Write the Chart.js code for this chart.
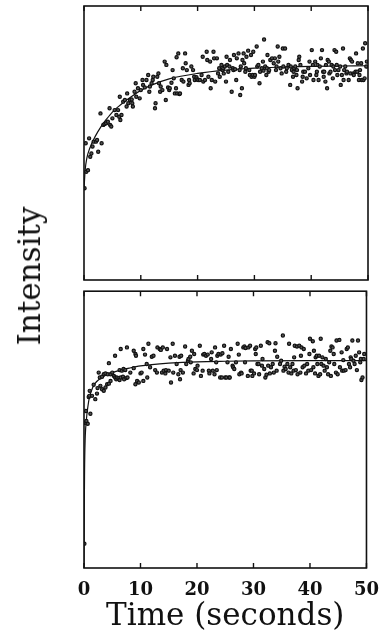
<!DOCTYPE html>
<html>
<head>
<meta charset="utf-8">
<script src="https://cdn.jsdelivr.net/npm/chart.js@4"></script>
<style>
  body { margin: 0; background: #fff; }
  #wrap { position: relative; width: 381px; height: 644px; }
  #top { position: absolute; left: 0; top: 0; }
  #bottom { position: absolute; left: 0; top: 286px; }
  #ylab {
    position: absolute; left: 29px; top: 276px;
    transform: translate(-50%, -50%) rotate(-90deg);
    font: 31px "DejaVu Serif", serif; color: #111; white-space: nowrap;
  }
</style>
</head>
<body>
<div id="wrap">
  <canvas id="top" width="381" height="286"></canvas>
  <canvas id="bottom" width="381" height="358"></canvas>
  <div id="ylab">Intensity</div>
</div>
<script>
// ticks on the time axis (seconds)
const timeTicks = [0, 10, 20, 30, 40, 50];

// upper panel: measured points
const topTime = [
  0.1, 0.4, 0.7, 0.3, 0.9, 1.1, 1.3, 1.5, 1.7, 2.1,
  2.3, 2.5, 2.9, 3.1, 3.4, 3.6, 3.9, 4.2, 4.5, 4.6,
  4.8, 5.0, 5.4, 5.7, 6.0, 6.2, 6.3, 6.4, 6.6, 6.9,
  7.2, 7.5, 7.6, 7.8, 8.1, 8.4, 8.5, 8.6, 8.9, 9.1,
  9.2, 9.5, 9.8, 10.0, 10.3, 10.4, 10.7, 11.0, 11.3, 11.5,
  11.6, 11.9, 12.1, 12.2, 12.5, 12.6, 12.9, 13.1, 13.2, 13.4,
  13.5, 13.8, 14.2, 14.4, 14.5, 14.8, 15.0, 15.1, 15.4, 15.6,
  15.8, 16.0, 16.2, 16.3, 16.4, 16.6, 16.8, 16.9, 17.2, 17.4,
  17.5, 17.8, 17.9, 18.1, 18.4, 18.5, 18.6, 18.9, 19.2, 19.4,
  19.5, 19.8, 19.9, 20.1, 20.4, 20.7, 20.9, 21.0, 21.3, 21.6,
  21.7, 21.9, 22.2, 22.3, 22.5, 22.8, 22.9, 23.1, 23.4, 23.6,
  23.8, 23.9, 24.2, 24.4, 24.5, 24.6, 24.8, 25.0, 25.1, 25.2,
  25.4, 25.6, 25.7, 26.0, 26.2, 26.3, 26.4, 26.6, 26.8, 26.9,
  27.2, 27.4, 27.5, 27.6, 27.8, 27.9, 28.1, 28.2, 28.4, 28.5,
  28.6, 28.9, 29.1, 29.2, 29.4, 29.5, 29.7, 29.8, 30.0, 30.1,
  30.4, 30.5, 30.7, 30.9, 31.0, 31.3, 31.5, 31.6, 31.7, 31.9,
  32.1, 32.2, 32.3, 32.5, 32.6, 32.8, 33.1, 33.4, 33.6, 33.8,
  33.9, 34.1, 34.2, 34.4, 34.6, 34.8, 35.0, 35.1, 35.4, 35.6,
  35.7, 36.0, 36.3, 36.4, 36.6, 36.8, 36.9, 37.0, 37.2, 37.4,
  37.5, 37.6, 37.8, 37.9, 38.1, 38.4, 38.5, 38.6, 38.9, 39.2,
  39.5, 39.7, 39.8, 40.1, 40.3, 40.4, 40.7, 40.9, 41.0, 41.1,
  41.3, 41.5, 41.7, 41.9, 42.1, 42.2, 42.3, 42.5, 42.6, 42.8,
  42.9, 43.1, 43.2, 43.4, 43.6, 43.8, 43.9, 44.1, 44.2, 44.4,
  44.5, 44.6, 44.8, 45.1, 45.2, 45.4, 45.6, 45.7, 45.8, 46.0,
  46.2, 46.3, 46.6, 46.8, 46.9, 47.0, 47.2, 47.4, 47.5, 47.8,
  47.9, 48.1, 48.2, 48.4, 48.5, 48.6, 48.8, 48.9, 49.1, 49.2,
  49.4, 49.5, 49.7, 49.8
];
const topIntensity = [
  33.5, 39.5, 40.1, 49.9, 51.7, 45.0, 46.2, 48.7, 50.5, 50.5,
  51.1, 46.8, 60.8, 49.9, 56.6, 56.9, 57.2, 57.8, 62.7, 56.6,
  56.0, 59.0, 62.0, 60.2, 62.0, 59.6, 66.9, 58.4, 60.2, 65.1,
  65.7, 63.3, 68.1, 64.5, 65.7, 65.9, 64.5, 63.3, 68.7, 71.8,
  66.9, 70.0, 66.3, 69.3, 73.0, 71.2, 70.3, 73.0, 74.8, 68.7,
  70.6, 71.8, 73.0, 74.2, 62.7, 64.5, 74.2, 75.4, 71.8, 68.7,
  70.6, 69.3, 79.7, 65.7, 78.5, 70.3, 69.3, 70.0, 72.0, 76.6,
  73.6, 68.1, 70.0, 81.3, 68.1, 82.7, 67.9, 68.1, 73.0, 77.3,
  72.4, 82.7, 79.1, 76.6, 71.2, 73.0, 71.8, 77.9, 76.6, 74.2,
  73.0, 74.0, 73.2, 73.0, 73.0, 74.8, 81.5, 72.4, 73.0, 83.3,
  80.3, 74.2, 79.7, 70.0, 73.0, 83.3, 80.9, 72.4, 80.9, 75.4,
  77.3, 74.2, 78.5, 76.6, 77.3, 75.4, 77.9, 72.4, 81.5, 78.5,
  76.0, 77.9, 80.3, 68.7, 77.3, 76.6, 82.1, 76.9, 73.0, 80.9,
  82.7, 76.6, 67.5, 77.9, 70.0, 80.3, 82.7, 79.1, 76.0, 77.3,
  81.5, 83.7, 76.6, 74.8, 82.1, 74.2, 74.8, 83.3, 74.2, 74.8,
  85.2, 77.9, 78.5, 71.8, 76.0, 77.3, 79.7, 76.4, 87.8, 77.9,
  74.8, 77.3, 82.1, 76.0, 76.6, 80.3, 80.9, 79.1, 80.9, 76.6,
  77.9, 85.2, 79.7, 81.5, 77.3, 75.4, 84.5, 77.9, 84.5, 76.0,
  77.3, 78.5, 71.2, 77.9, 76.6, 74.2, 76.0, 77.3, 77.9, 74.8,
  76.6, 70.0, 80.3, 81.5, 78.5, 72.4, 74.2, 76.0, 76.0, 73.6,
  77.3, 79.7, 74.8, 83.9, 78.5, 73.0, 79.7, 74.8, 76.0, 78.5,
  73.0, 77.9, 80.9, 83.9, 76.0, 74.2, 76.0, 72.4, 78.5, 70.0,
  80.3, 79.7, 75.4, 76.0, 78.5, 73.6, 77.9, 83.9, 76.6, 83.3,
  78.5, 74.8, 76.6, 77.9, 71.2, 74.8, 84.5, 73.0, 76.6, 77.9,
  75.4, 76.0, 73.0, 80.9, 75.4, 80.3, 79.7, 75.4, 74.8, 76.0,
  82.7, 76.0, 79.1, 73.0, 74.8, 76.6, 79.1, 73.0, 84.5, 73.0,
  73.6, 86.4, 77.9, 79.7
];
// upper panel: fitted curve
const topFitTime = [0, 0.2, 0.5, 1, 2, 3, 4, 5, 6, 7, 8, 10, 12, 15, 20, 25, 30, 35, 40, 45, 50];
const topFitIntensity = [33, 40, 44.5, 48, 52.5, 56, 58.8, 61.3, 63.2, 64.9, 66.4, 69.2, 71.2, 73.4, 75.4, 76.6, 77.3, 77.7, 78.0, 78.1, 78.2];

// lower panel: measured points
const bottomTime = [
  0.07, 0.2, 0.35, 0.42, 0.66, 0.83, 0.95, 1.01, 1.13, 1.42,
  1.71, 2.0, 2.3, 2.4, 2.6, 2.8, 2.9, 3.2, 3.2, 3.5,
  3.5, 3.8, 3.8, 4.1, 4.2, 4.4, 4.4, 4.7, 4.7, 5.0,
  5.3, 5.5, 5.5, 5.7, 5.8, 6.1, 6.3, 6.3, 6.5, 6.5,
  6.7, 6.9, 7.0, 7.1, 7.3, 7.5, 7.6, 7.7, 8.2, 8.8,
  8.8, 9.1, 9.1, 9.2, 9.4, 9.7, 10.0, 10.2, 10.5, 10.5,
  10.8, 11.1, 11.2, 11.4, 11.7, 12.0, 12.3, 12.6, 12.9, 13.0,
  13.4, 13.6, 13.8, 13.95, 14.1, 14.4, 14.5, 14.7, 15.0, 15.3,
  15.4, 15.7, 15.8, 16.1, 16.4, 16.7, 16.9, 17.0, 17.1, 17.2,
  17.5, 17.9, 18.1, 18.4, 18.5, 18.8, 18.9, 19.1, 19.4, 19.5,
  19.7, 20.0, 20.1, 20.5, 20.7, 21.0, 21.1, 21.3, 21.6, 21.9,
  22.1, 22.2, 22.5, 22.6, 22.8, 23.1, 23.2, 23.4, 23.5, 23.6,
  23.8, 24.1, 24.2, 24.4, 24.5, 24.8, 25.0, 25.2, 25.4, 25.6,
  25.7, 25.8, 26.0, 26.3, 26.4, 26.6, 26.9, 27.2, 27.4, 27.5,
  27.8, 27.9, 28.2, 28.4, 28.5, 28.6, 29.0, 29.1, 29.4, 29.5,
  29.7, 29.8, 30.1, 30.3, 30.4, 30.5, 30.7, 30.9, 31.0, 31.3,
  31.5, 31.6, 31.9, 32.1, 32.3, 32.5, 32.6, 32.8, 32.9, 33.1,
  33.4, 33.6, 33.8, 33.9, 34.1, 34.2, 34.7, 34.9, 35.2, 35.3,
  35.5, 35.7, 36.0, 36.2, 36.3, 36.5, 36.7, 36.9, 37.1, 37.2,
  37.3, 37.5, 37.7, 37.8, 38.1, 38.3, 38.4, 38.5, 38.7, 38.9,
  39.0, 39.3, 39.5, 39.7, 39.9, 40.0, 40.2, 40.5, 40.6, 40.7,
  40.9, 41.0, 41.2, 41.3, 41.5, 41.6, 41.8, 41.9, 42.0, 42.2,
  42.4, 42.6, 42.8, 43.0, 43.2, 43.4, 43.6, 43.7, 43.8, 44.0,
  44.2, 44.3, 44.6, 44.7, 44.9, 45.2, 45.3, 45.6, 45.7, 45.9,
  46.0, 46.3, 46.5, 46.7, 46.9, 47.1, 47.2, 47.3, 47.5, 47.7,
  47.9, 48.1, 48.3, 48.5, 48.7, 48.9, 49.0, 49.1, 49.3, 49.5,
  49.6
];
const bottomIntensity = [
  8.8, 52.5, 56.7, 53.1, 52.1, 61.8, 62.2, 64.0, 55.7, 62.2,
  66.2, 61.0, 63.0, 65.0, 70.6, 68.8, 65.8, 64.6, 69.1, 64.0,
  70.0, 65.2, 70.3, 66.4, 70.0, 66.6, 74.0, 67.6, 70.0, 70.6,
  69.4, 68.8, 76.7, 68.2, 68.8, 68.6, 67.9, 71.5, 68.8, 79.1,
  71.3, 69.1, 71.9, 68.2, 71.5, 68.6, 79.7, 68.8, 70.6, 72.2,
  78.5, 77.3, 66.4, 76.7, 67.6, 67.0, 70.3, 70.6, 79.1, 67.6,
  77.1, 73.7, 68.8, 81.0, 72.5, 76.3, 76.7, 71.5, 70.6, 79.7,
  79.1, 78.8, 70.6, 79.7, 71.3, 70.3, 71.5, 79.1, 71.3, 76.1,
  67.0, 81.0, 70.6, 76.7, 73.7, 70.0, 76.3, 68.2, 71.5, 76.7,
  70.6, 80.0, 73.7, 74.9, 75.5, 76.3, 74.3, 78.5, 70.3, 77.3,
  71.9, 71.5, 73.1, 80.3, 69.4, 71.3, 77.1, 77.3, 76.7, 77.1,
  71.3, 70.3, 75.5, 77.9, 71.3, 70.0, 79.7, 74.3, 71.5, 76.7,
  77.3, 68.8, 77.1, 68.8, 77.6, 80.3, 68.8, 68.8, 74.3, 76.3,
  68.8, 68.8, 79.1, 73.1, 72.5, 71.9, 74.3, 81.0, 77.1, 70.0,
  70.6, 70.3, 79.7, 80.0, 74.3, 79.5, 69.4, 79.7, 80.3, 71.3,
  71.3, 69.4, 70.3, 79.1, 77.3, 79.7, 73.7, 73.7, 70.0, 80.3,
  73.1, 75.5, 71.9, 68.8, 69.8, 81.6, 73.1, 81.2, 70.3, 72.5,
  73.7, 70.6, 78.5, 81.2, 71.3, 76.3, 73.7, 74.9, 84.0, 71.3,
  72.7, 71.9, 73.7, 70.6, 81.0, 72.5, 70.3, 73.7, 71.3, 76.1,
  80.3, 71.5, 80.0, 70.0, 80.3, 70.6, 76.7, 79.7, 72.5, 79.1,
  73.1, 70.3, 73.7, 71.3, 77.3, 82.8, 71.5, 81.9, 72.5, 78.5,
  70.3, 76.1, 76.7, 73.7, 69.4, 76.7, 70.0, 82.8, 73.7, 76.1,
  73.1, 71.3, 75.5, 72.5, 70.0, 74.3, 78.5, 69.4, 80.0, 79.7,
  77.3, 73.7, 70.6, 82.2, 70.0, 82.4, 72.5, 77.9, 71.3, 75.1,
  71.3, 71.5, 79.1, 79.7, 73.7, 72.5, 76.1, 75.5, 82.2, 74.9,
  73.7, 76.7, 71.5, 82.2, 77.9, 74.3, 75.5, 67.9, 68.8, 75.5,
  77.3
];
// lower panel: fitted curve
const bottomFitTime = [0, 0.05, 0.1, 0.2, 0.4, 0.7, 1, 1.5, 2, 3, 4, 5, 6.5, 8, 10, 12, 15, 20, 25, 30, 40, 50];
const bottomFitIntensity = [1, 20, 35, 46, 53, 58.5, 62, 65, 66.8, 68.6, 69.8, 70.6, 71.5, 72.2, 73, 73.5, 74, 74.5, 74.7, 74.8, 74.9, 74.9];

const ink = '#111';

// box around the plot with short inward tick marks top and bottom
const frameTicks = {
  id: 'frameTicks',
  afterDatasetsDraw(chart) {
    const { ctx, chartArea: a } = chart;
    const x = chart.scales.x;
    ctx.save();
    ctx.strokeStyle = ink;
    ctx.lineWidth = 1.6;
    ctx.strokeRect(a.left, a.top, a.right - a.left, a.bottom - a.top);
    ctx.lineWidth = 1.4;
    ctx.beginPath();
    timeTicks.forEach(v => {
      const px = x.getPixelForValue(v);
      ctx.moveTo(px, a.top);
      ctx.lineTo(px, a.top + 5);
      ctx.moveTo(px, a.bottom);
      ctx.lineTo(px, a.bottom - 5);
    });
    ctx.stroke();
    ctx.restore();
  }
};

function pairs(xs, ys) {
  return xs.map((t, i) => ({ x: t, y: ys[i] }));
}

function panel(canvasId, time, intensity, fitTime, fitIntensity, showAxis) {
  return new Chart(document.getElementById(canvasId), {
    type: 'scatter',
    data: {
      datasets: [
        {
          data: pairs(time, intensity),
          pointRadius: 1.6,
          pointBorderWidth: 1.2,
          pointBorderColor: ink,
          pointBackgroundColor: '#555'
        },
        {
          type: 'line',
          data: pairs(fitTime, fitIntensity),
          borderColor: ink,
          borderWidth: 1.2,
          pointRadius: 0,
          fill: false,
          cubicInterpolationMode: 'monotone'
        }
      ]
    },
    options: {
      responsive: false,
      animation: false,
      events: [],
      layout: {
        padding: showAxis
          ? { left: 84, right: 13, top: 5, bottom: 12 }
          : { left: 84, right: 13, top: 6, bottom: 6 }
      },
      plugins: { legend: { display: false }, tooltip: { enabled: false } },
      scales: {
        x: {
          type: 'linear',
          min: 0,
          max: 50,
          display: showAxis,
          afterBuildTicks: scale => {
            scale.ticks = timeTicks.map(v => ({ value: v }));
          },
          grid: { display: false, drawTicks: false },
          border: { display: false },
          ticks: {
            color: ink,
            // small padding keeps the "50" overhang from shrinking the plot;
            // the tall line box pushes the labels down instead
            padding: 2,
            maxRotation: 0,
            autoSkip: false,
            font: { family: 'DejaVu Serif', weight: 'bold', size: 18, lineHeight: '40px' }
          },
          title: {
            display: true,
            text: 'Time (seconds)',
            color: ink,
            padding: { top: -11, bottom: 0 },
            font: { family: 'DejaVu Serif', size: 31, lineHeight: 1 }
          }
        },
        y: { min: 0, max: 100, display: false }
      }
    },
    plugins: [frameTicks]
  });
}

panel('top', topTime, topIntensity, topFitTime, topFitIntensity, false);
panel('bottom', bottomTime, bottomIntensity, bottomFitTime, bottomFitIntensity, true);
</script>
</body>
</html>
